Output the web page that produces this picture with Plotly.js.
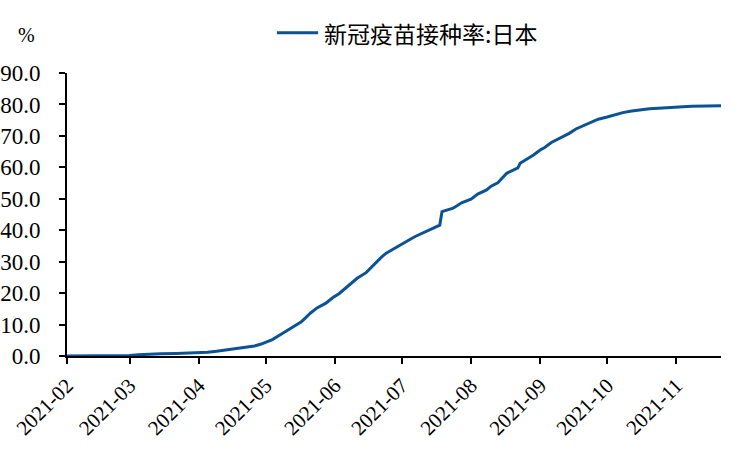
<!DOCTYPE html>
<html>
<head>
<meta charset="utf-8">
<script src="https://cdn.plot.ly/plotly-3.0.1.min.js"></script>
<style>html,body{margin:0;padding:0;background:#fff;}#chart{width:750px;height:450px;}</style>
</head>
<body>
<div id="chart"></div>
<script>
const seriesName = '新冠疫苗接种率:日本';
const unitLabel = '%';
const dates = ['2021-02-01','2021-02-16','2021-02-22','2021-03-01','2021-03-05','2021-03-10','2021-03-15','2021-03-22','2021-03-28','2021-04-01',
'2021-04-05','2021-04-09','2021-04-12','2021-04-15','2021-04-19','2021-04-22','2021-04-26','2021-04-29','2021-05-02','2021-05-04',
'2021-05-07','2021-05-10','2021-05-12','2021-05-15','2021-05-17','2021-05-19','2021-05-21','2021-05-24','2021-05-28','2021-05-31',
'2021-06-03','2021-06-06','2021-06-08','2021-06-11','2021-06-15','2021-06-17','2021-06-19','2021-06-22','2021-06-24','2021-06-27',
'2021-06-30','2021-07-03','2021-07-05','2021-07-07','2021-07-09','2021-07-12','2021-07-15','2021-07-18','2021-07-19','2021-07-21',
'2021-07-24','2021-07-28','2021-08-01','2021-08-04','2021-08-08','2021-08-10','2021-08-13','2021-08-17','2021-08-20','2021-08-22',
'2021-08-23','2021-08-26','2021-08-29','2021-09-01','2021-09-03','2021-09-06','2021-09-10','2021-09-14','2021-09-17','2021-09-20',
'2021-09-24','2021-09-27','2021-10-01','2021-10-05','2021-10-08','2021-10-12','2021-10-16','2021-10-20','2021-10-24','2021-10-27',
'2021-11-01','2021-11-04','2021-11-08','2021-11-11','2021-11-15','2021-11-21'];
const rates = [0,0,0.05,0.15,0.4,0.6,0.7,0.8,0.9,1.0,
1.2,1.5,1.8,2.3,2.6,2.8,3.2,3.8,4.5,5.2,
6.5,7.9,8.8,10.0,10.9,12.2,13.6,15.3,16.8,18.5,
19.9,21.7,23.0,24.7,26.5,28.0,29.5,31.5,32.7,34.0,
35.3,36.4,37.2,38.0,38.7,39.6,40.8,41.6,45.9,46.4,
47.0,48.8,49.9,51.5,52.8,54.0,55.1,58.1,59.2,59.8,
61.3,62.6,63.9,65.5,66.3,67.9,69.4,70.8,72.2,73.2,
74.5,75.3,76.0,76.9,77.4,77.9,78.3,78.6,78.8,79.0,
79.2,79.3,79.4,79.5,79.5,79.6];
const xRange = ['2021-02-01','2021-11-21'];
const yRange = [0, 90];

const serif = 'Liberation Serif';
const lineColor = '#0b5394';
const trace = {
  type: 'scatter', mode: 'lines', x: dates, y: rates, name: seriesName,
  line: {color: lineColor, width: 3}, showlegend: false
};
const legY = 1.1424;
const layout = {
  width: 750, height: 450,
  margin: {l: 67, r: 29, t: 73, b: 94},
  paper_bgcolor: '#fff', plot_bgcolor: '#fff',
  showlegend: false,
  xaxis: {
    type: 'date', range: xRange, tick0: '2021-02-01', dtick: 'M1', tickformat: '%Y-%m',
    tickangle: -45, ticks: 'outside', ticklen: 6, tickwidth: 2, tickcolor: '#000', ticklabelstandoff: 1,
    showline: true, linecolor: '#000', linewidth: 2, showgrid: false, zeroline: false, automargin: false,
    tickfont: {family: serif, size: 21, color: '#000'}
  },
  yaxis: {
    range: yRange, dtick: 10, tickformat: '.1f', ticks: 'outside', ticklen: 6, tickwidth: 2, tickcolor: '#000',
    ticklabelstandoff: 14,
    showline: true, linecolor: '#000', linewidth: 2, showgrid: false, zeroline: false, automargin: false,
    tickfont: {family: serif, size: 23, color: '#000'}
  },
  shapes: [{type: 'line', xref: 'paper', yref: 'paper', x0: 0.321, x1: 0.384, y0: legY, y1: legY,
    line: {color: lineColor, width: 3}}],
  annotations: [
    {text: seriesName, xref: 'paper', yref: 'paper', x: 0.3905, y: legY, xanchor: 'left', yanchor: 'middle',
      showarrow: false, font: {family: 'Noto Sans CJK SC', size: 23, color: '#000'}},
    {text: unitLabel, xref: 'paper', yref: 'paper', x: -0.0612, y: 1.136, xanchor: 'center', yanchor: 'middle',
      showarrow: false, font: {family: serif, size: 20, color: '#000'}}
  ]
};
Plotly.newPlot('chart', [trace], layout, {displayModeBar: false, staticPlot: true});
</script>
</body>
</html>
